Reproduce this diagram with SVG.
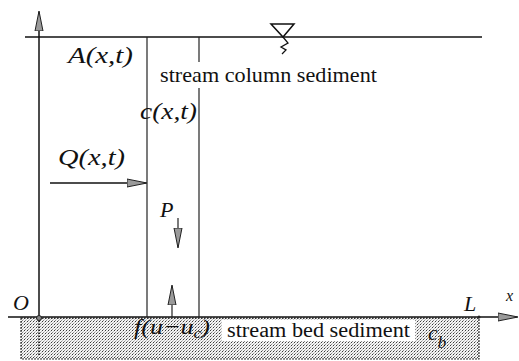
<svg xmlns="http://www.w3.org/2000/svg" width="519" height="361" viewBox="0 0 519 361">
<defs>
<pattern id="stip" width="3" height="3" patternUnits="userSpaceOnUse">
<rect width="3" height="3" fill="#f4f4f4"/>
<rect x="0" y="0" width="1" height="1" fill="#3a3a3a"/>
<rect x="1" y="2" width="1" height="1" fill="#8a8a8a"/>
<rect x="2" y="1" width="1" height="1" fill="#bdbdbd"/>
</pattern>
<marker id="ahBig" viewBox="0 0 20 10" refX="19" refY="5" markerWidth="20" markerHeight="10" markerUnits="userSpaceOnUse" orient="auto">
<path d="M0,1 L20,5 L0,9 Z" fill="#9a9a9a" stroke="#222" stroke-width="1"/>
</marker>
</defs>
<style>
.ln{stroke:#111;stroke-width:1.5;fill:none}
.thin{stroke:#222;stroke-width:1.2;fill:none}
.it{font-family:"Liberation Serif","Times New Roman",serif;font-style:italic;fill:#111}
.rm{font-family:"Liberation Serif","Times New Roman",serif;fill:#111}
</style>
<rect width="519" height="361" fill="#fff"/>

<g id="bed">
<rect x="21" y="318" width="458" height="41" fill="url(#stip)" stroke="#333" stroke-width="1.2" stroke-dasharray="2 1"/>
<rect x="222" y="320" width="193" height="21" fill="#fff"/>
<text class="rm" x="227" y="337" font-size="20" textLength="183" lengthAdjust="spacingAndGlyphs">stream bed sediment</text>
<text class="it" x="134" y="334" font-size="22" textLength="76" lengthAdjust="spacingAndGlyphs" fill="#333">f(u−u<tspan font-size="15" dy="4">c</tspan><tspan dy="-4">)</tspan></text>
<text class="it" x="428" y="340" font-size="22" fill="#444">c<tspan font-size="17" dy="8">b</tspan></text>
</g>

<g id="connectors">
<line class="ln" x1="39" y1="355" x2="39" y2="318" stroke-dasharray="1.5 1.5"/>
<line class="ln" x1="39" y1="318" x2="39" y2="12" marker-end="url(#ahBig)"/>
<line class="ln" x1="8" y1="317" x2="517" y2="317" marker-end="url(#ahBig)"/>
<circle cx="39" cy="318" r="2.5" fill="#888" stroke="#222" stroke-width="1"/>
<circle cx="479" cy="317" r="1.5" fill="#222"/>
<line class="ln" x1="25" y1="37" x2="482" y2="37"/>
<line class="thin" x1="147" y1="37" x2="147" y2="317"/>
<line class="thin" x1="199" y1="37" x2="199" y2="62"/>
<line class="thin" x1="199" y1="88" x2="199" y2="317"/>
<line class="ln" x1="50" y1="183" x2="146" y2="183" marker-end="url(#ahBig)"/>
<line class="thin" x1="178" y1="218" x2="178" y2="247" marker-end="url(#ahBig)"/>
<line class="thin" x1="172" y1="317" x2="172" y2="286" marker-end="url(#ahBig)"/>
</g>

<g id="surface-symbol">
<path d="M271,24 L294,24 L283,37 Z" fill="none" stroke="#111" stroke-width="1.5"/>
<path d="M283,37 L288,43 L281,47 L286,50 L282,54" fill="none" stroke="#111" stroke-width="1.3"/>
</g>

<g id="labels">
<text class="it" x="68" y="63" font-size="23" textLength="65" lengthAdjust="spacingAndGlyphs">A(x,t)</text>
<text class="rm" x="160" y="82" font-size="21" textLength="217" lengthAdjust="spacingAndGlyphs">stream column sediment</text>
<text class="it" x="140" y="119" font-size="23" textLength="57" lengthAdjust="spacingAndGlyphs">c(x,t)</text>
<text class="it" x="58" y="165" font-size="23" textLength="67" lengthAdjust="spacingAndGlyphs">Q(x,t)</text>
<text class="it" x="160" y="217" font-size="22">P</text>
<text class="it" x="13" y="310" font-size="22">O</text>
<text class="it" x="464" y="311" font-size="22">L</text>
<text class="it" x="506" y="301" font-size="16">x</text>
</g>
</svg>
